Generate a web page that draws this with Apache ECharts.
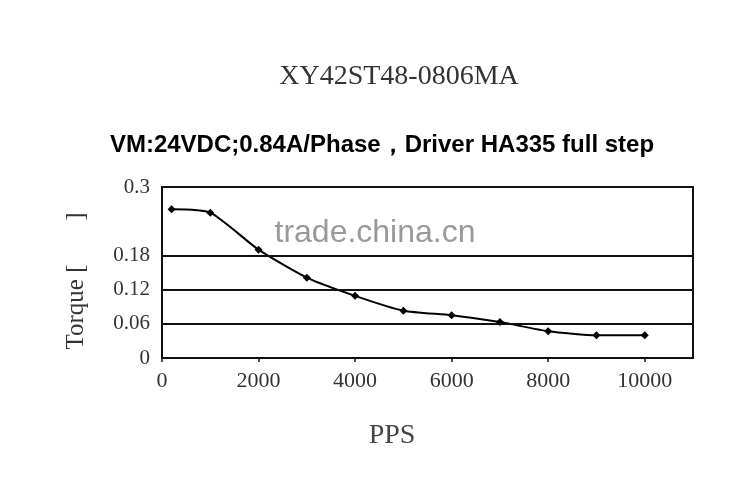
<!DOCTYPE html>
<html>
<head>
<meta charset="utf-8">
<script src="https://cdn.jsdelivr.net/npm/echarts@6/dist/echarts.min.js"></script>
<style>html,body{margin:0;padding:0;background:#fff}#c{width:750px;height:491px}</style>
</head>
<body>
<div id="c"></div>
<script>
const titleText = 'XY42ST48-0806MA';
const subtitleText = 'VM:24VDC;0.84A/Phase，Driver HA335 full step';
const xName = 'PPS';
const yName = 'Torque [       ]';
const watermarkText = 'trade.china.cn';
const speeds = [200, 1000, 2000, 3000, 4000, 5000, 6000, 7000, 8000, 9000, 10000];
const torque = [0.261, 0.255, 0.19, 0.141, 0.109, 0.083, 0.075, 0.063, 0.047, 0.040, 0.040];
const xTicks = [0, 2000, 4000, 6000, 8000, 10000];
const yTicks = [0, 0.06, 0.12, 0.18, 0.3];
const yGridLines = [0.06, 0.12, 0.18];

const chart = echarts.init(document.getElementById('c'));
chart.setOption({
  animation: false,
  backgroundColor: '#fff',
  grid: { left: 162, top: 187, width: 531, height: 171, show: true, borderColor: '#111', borderWidth: 2, backgroundColor: 'transparent' },
  graphic: [
    { type: 'text', x: 399, y: 77, style: { text: titleText, font: '28px "Liberation Serif"', fill: '#333', align: 'center', verticalAlign: 'middle' } },
    { type: 'text', x: 382, y: 145, style: { text: subtitleText, font: 'bold 24px "Liberation Sans"', fill: '#000', align: 'center', verticalAlign: 'middle' } },
    { type: 'text', x: 375, y: 233, style: { text: watermarkText, font: '32px "Liberation Sans"', fill: '#999', align: 'center', verticalAlign: 'middle' } },
    { type: 'text', x: 392, y: 436, style: { text: xName, font: '28px "Liberation Serif"', fill: '#444', align: 'center', verticalAlign: 'middle' } },
    { type: 'text', x: 76, y: 281, rotation: Math.PI / 2, style: { text: yName, font: '25px "Liberation Serif"', fill: '#333', align: 'center', verticalAlign: 'middle' } }
  ],
  xAxis: {
    type: 'value', min: 0, max: 11000,
    axisLine: { show: true, lineStyle: { color: '#111', width: 2 } },
    axisTick: { show: true, length: 4, customValues: xTicks, lineStyle: { color: '#111', width: 1.5 } },
    axisLabel: { customValues: xTicks, color: '#333', fontFamily: 'Liberation Serif', fontSize: 22, margin: 12, formatter: v => String(v) },
    splitLine: { show: false }
  },
  yAxis: {
    type: 'value', min: 0, max: 0.3,
    axisLine: { show: true, lineStyle: { color: '#111', width: 2 } },
    axisTick: { show: false },
    axisLabel: { customValues: yTicks, color: '#333', fontFamily: 'Liberation Serif', fontSize: 21, margin: 12, formatter: v => String(v) },
    splitLine: { show: false }
  },
  series: [{
    type: 'line',
    data: speeds.map((s, i) => [s, torque[i]]),
    smooth: 0.2,
    symbol: 'diamond', symbolSize: 8,
    itemStyle: { color: '#000' },
    lineStyle: { color: '#000', width: 2 },
    markLine: {
      silent: true, symbol: 'none', label: { show: false },
      lineStyle: { color: '#111', width: 1.8, type: 'solid' },
      data: yGridLines.map(v => ({ yAxis: v }))
    }
  }]
});
</script>
</body>
</html>
